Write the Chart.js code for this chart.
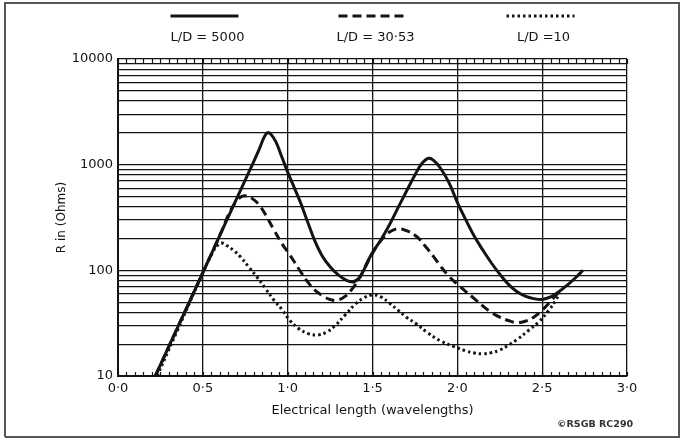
<!DOCTYPE html>
<html><head><meta charset="utf-8">
<script src="https://cdn.jsdelivr.net/npm/chart.js@4/dist/chart.umd.min.js"></script>
<style>html,body{margin:0;padding:0;background:#fff;}canvas{display:block;}</style>
</head><body>
<canvas id="c" width="684" height="441"></canvas>
<script>
// ---- data ----
const seriesLabels = ['L/D = 5000', 'L/D = 30·53', 'L/D =10'];

const xSolid = [0.22,0.35,0.5,0.6,0.7,0.78,0.83,0.86,0.88,0.9,0.93,0.96,1.0,1.04,1.08,1.12,1.16,1.2,1.25,1.3,1.35,1.39,1.43,1.47,1.5,1.55,1.6,1.65,1.7,1.75,1.79,1.83,1.86,1.9,1.95,2.0,2.05,2.1,2.15,2.2,2.25,2.3,2.35,2.4,2.45,2.5,2.55,2.6,2.65,2.7,2.74];
const ySolid = [10,28.5,95,214,479,910,1370,1800,2000,1950,1650,1250,850,600,420,280,190,140,108,90,80,78,88,120,147,195,270,390,560,800,1020,1150,1100,930,680,440,300,210,156,118,92,74,63,57,54,53,56,63,73,86,100];

const xDashed = [0.22,0.35,0.5,0.6,0.66,0.7,0.73,0.76,0.79,0.83,0.87,0.92,0.97,1.0,1.04,1.08,1.12,1.16,1.21,1.25,1.29,1.34,1.39,1.44,1.5,1.55,1.6,1.65,1.7,1.76,1.81,1.86,1.9,1.95,2.0,2.05,2.1,2.15,2.2,2.25,2.3,2.35,2.4,2.45,2.5,2.55,2.6];
const yDashed = [10,28.5,95,214,360,455,500,505,480,420,335,240,175,150,120,95,77,65,57,53,52,57,70,95,145,192,230,247,237,209,170,135,110,88,74,63,54,46,40,36,33.5,32,33,36,42,51,63];

const xDotted = [0.23,0.35,0.5,0.55,0.58,0.61,0.64,0.68,0.72,0.77,0.82,0.87,0.92,0.97,1.01,1.06,1.12,1.18,1.23,1.28,1.34,1.4,1.45,1.5,1.55,1.6,1.65,1.7,1.76,1.82,1.9,1.98,2.05,2.1,2.15,2.2,2.25,2.3,2.35,2.42,2.48,2.54,2.58,2.6];
const yDotted = [10,27,95,140,168,181,172,155,135,108,86,67,52,42,34,28.5,25.2,24.5,26,30,38,48,55,58.6,56,49,42,36,31,26,21.5,19,17.3,16.5,16.2,16.6,17.6,19.5,22,27,32.5,42,52,60];

const yGridValues = [10,20,30,40,50,60,70,80,90,100,200,300,400,500,600,700,800,900,1000,2000,3000,4000,5000,6000,7000,8000,9000,10000];
const yLabelled = [10,100,1000,10000];
const xMin = 0, xMax = 3, xStep = 0.5, xMinorStep = 0.05;

const pts = (xs, ys) => xs.map((x, i) => ({x: x, y: ys[i]}));
const INK = '#141414';
const FONT = 'DejaVu Sans';

const innerTicks = {
  id: 'innerTicks',
  beforeDatasetsDraw(chart) {
    const {ctx, chartArea: a, scales: {x}} = chart;
    ctx.save();
    ctx.strokeStyle = INK; ctx.lineWidth = 1.2;
    const n = Math.round((xMax - xMin) / xMinorStep);
    for (let i = 0; i <= n; i++) {
      const px = Math.round(x.getPixelForValue(xMin + i * xMinorStep)) + 0.5;
      ctx.beginPath(); ctx.moveTo(px, a.bottom); ctx.lineTo(px, a.bottom - 4); ctx.stroke();
      ctx.beginPath(); ctx.moveTo(px, a.top); ctx.lineTo(px, a.top + 5); ctx.stroke();
    }
    ctx.restore();
  }
};

const decor = {
  id: 'decor',
  afterDraw(chart) {
    const {ctx, chartArea: a} = chart;
    ctx.save();
    const cx0 = (a.left + a.right) / 2;
    chart.data.datasets.forEach((ds, i) => {
      const cx = cx0 + (i - 1) * 168;
      ctx.strokeStyle = INK; ctx.lineWidth = 3;
      ctx.setLineDash(ds.borderDash || []);
      ctx.lineCap = 'butt';
      ctx.beginPath(); ctx.moveTo(cx - 34, 16); ctx.lineTo(cx + 34, 16); ctx.stroke();
      ctx.setLineDash([]);
      ctx.fillStyle = INK; ctx.font = '13px "' + FONT + '"';
      ctx.textAlign = 'center'; ctx.textBaseline = 'middle';
      ctx.fillText(ds.label, cx + 3, 38);
    });
    ctx.font = 'bold 9.5px "' + FONT + '"';
    ctx.textAlign = 'left'; ctx.textBaseline = 'middle';
    ctx.fillStyle = '#333';
    ctx.fillText('©RSGB RC290', 557, 425);
    ctx.strokeStyle = '#555'; ctx.lineWidth = 2;
    ctx.beginPath();
    ctx.moveTo(5, 437); ctx.lineTo(5, 3); ctx.lineTo(679, 3); ctx.lineTo(679, 437); ctx.lineTo(5, 437);
    ctx.stroke();
    ctx.restore();
  }
};

const lineStyle = {borderColor: INK, borderWidth: 3, pointRadius: 0, tension: 0.4, fill: false};

new Chart(document.getElementById('c'), {
  type: 'line',
  data: {
    datasets: [
      Object.assign({label: seriesLabels[0], data: pts(xSolid, ySolid)}, lineStyle),
      Object.assign({label: seriesLabels[1], data: pts(xDashed, yDashed), borderDash: [9, 5]}, lineStyle),
      Object.assign({label: seriesLabels[2], data: pts(xDotted, yDotted), borderDash: [2.5, 3]}, lineStyle)
    ]
  },
  options: {
    responsive: false,
    animation: false,
    devicePixelRatio: 1,
    layout: {padding: {top: 59, right: 57, bottom: 0, left: 0}},
    plugins: {legend: {display: false}, tooltip: {enabled: false}},
    scales: {
      x: {
        type: 'linear', min: xMin, max: xMax,
        afterFit(s) { s.height = 65; },
        ticks: {stepSize: xStep, color: INK, font: {family: FONT, size: 13}, padding: 5,
          callback: v => Number(v).toFixed(1).replace('.', '·')},
        grid: {color: INK, lineWidth: 1.3, drawTicks: false},
        border: {color: INK, width: 2},
        title: {display: true, text: 'Electrical length (wavelengths)', color: INK,
          font: {family: FONT, size: 13}, padding: {top: 0, bottom: 23}}
      },
      y: {
        type: 'logarithmic', min: 10, max: 10000,
        afterFit(s) { s.width = 118; },
        afterBuildTicks(s) { s.ticks = yGridValues.map(v => ({value: v})); },
        ticks: {color: INK, font: {family: FONT, size: 13}, padding: 5, autoSkip: false,
          callback: v => yLabelled.includes(v) ? String(v) : ''},
        grid: {color: INK, lineWidth: 1.2, drawTicks: false},
        border: {color: INK, width: 2},
        title: {display: true, text: 'R in (Ohms)', color: INK,
          font: {family: FONT, size: 12}, padding: {top: 55, bottom: 0}}
      }
    }
  },
  plugins: [innerTicks, decor]
});
</script>
</body></html>
